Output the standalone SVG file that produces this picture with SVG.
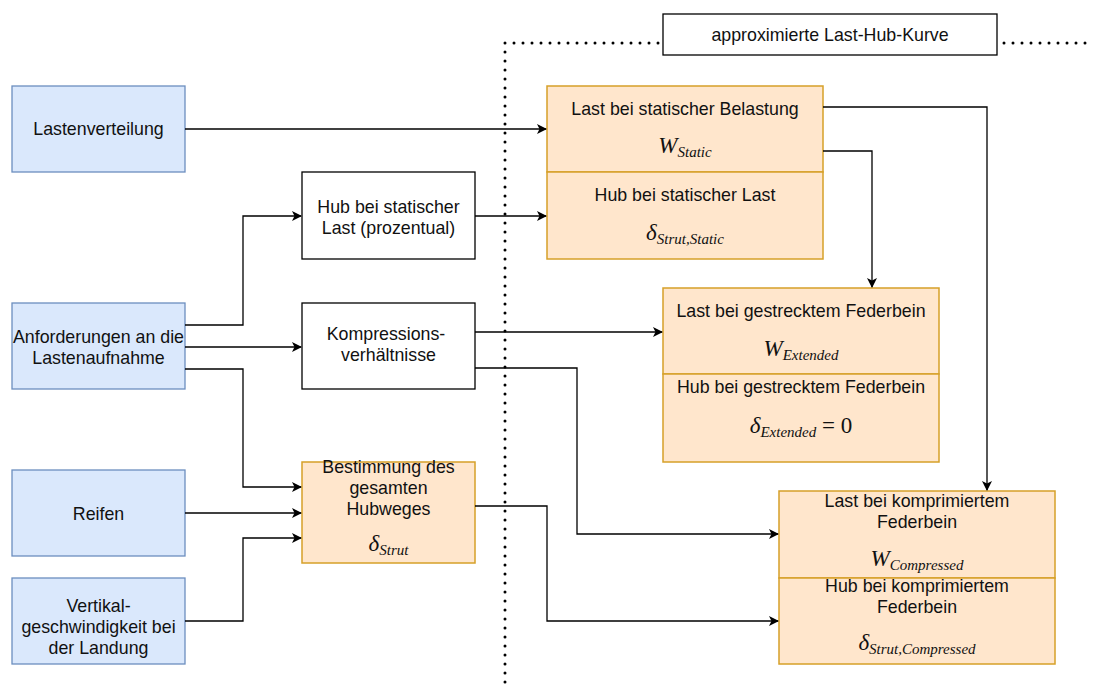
<svg xmlns="http://www.w3.org/2000/svg" width="1095" height="692" viewBox="0 0 1095 692">
  <defs>
    <marker id="arr" viewBox="0 0 10 10" refX="9" refY="5" markerWidth="10" markerHeight="10" markerUnits="userSpaceOnUse" orient="auto">
      <path d="M0,0 L10,5 L0,10 L2.5,5 Z" fill="#000"/>
    </marker>
  </defs>
  <style>
    .blue { fill: #dae8fc; stroke: #6c8ebf; stroke-width: 1.3; }
    .plain { fill: #ffffff; stroke: #000000; stroke-width: 1.3; }
    .orange { fill: #ffe6cc; stroke: #d6a028; stroke-width: 1.5; }
    .lbl { font-family: "Liberation Sans", Arial, sans-serif; font-size: 17.8px; fill: #111; text-anchor: middle; }
    .math { font-family: "Liberation Serif", "Times New Roman", serif; font-style: italic; fill: #111; text-anchor: middle; font-size: 23px; }
    .sub { font-size: 15px; }
    .edge { fill: none; stroke: #000; stroke-width: 1.3; }
    .dots { fill: none; stroke: #000; stroke-width: 3; stroke-dasharray: 0 9; stroke-linecap: round; }
  </style>
  <rect width="1095" height="692" fill="#ffffff"/>

  <!-- boundary of the approximated load-stroke region -->
  <g id="boundary">
    <path class="dots" d="M505,43 L660,43"/>
    <path class="dots" d="M1004,43 L1090,43"/>
    <path class="dots" d="M505,52 L505,690"/>
  </g>

  <g id="title">
    <rect class="plain" x="663" y="14" width="334" height="41"/>
    <text class="lbl" x="830" y="41">approximierte Last-Hub-Kurve</text>
  </g>

  <!-- inputs -->
  <g id="lastenverteilung">
    <rect class="blue" x="12" y="86" width="173" height="86"/>
    <text class="lbl" x="98.5" y="135">Lastenverteilung</text>
  </g>
  <g id="anforderungen">
    <rect class="blue" x="12" y="303" width="173" height="86"/>
    <text class="lbl" x="98.5" y="343">Anforderungen an die</text>
    <text class="lbl" x="98.5" y="364">Lastenaufnahme</text>
  </g>
  <g id="reifen">
    <rect class="blue" x="12" y="470" width="173" height="86"/>
    <text class="lbl" x="98.5" y="520">Reifen</text>
  </g>
  <g id="vertikalgeschwindigkeit">
    <rect class="blue" x="12" y="578" width="173" height="86"/>
    <text class="lbl" x="98.5" y="612">Vertikal-</text>
    <text class="lbl" x="98.5" y="633">geschwindigkeit bei</text>
    <text class="lbl" x="98.5" y="654">der Landung</text>
  </g>

  <!-- intermediate steps -->
  <g id="hub-statisch-prozent">
    <rect class="plain" x="302" y="172" width="173" height="87"/>
    <text class="lbl" x="388.5" y="213">Hub bei statischer</text>
    <text class="lbl" x="388.5" y="234">Last (prozentual)</text>
  </g>
  <g id="kompressionsverhaeltnisse">
    <rect class="plain" x="302" y="303" width="173" height="86"/>
    <text class="lbl" x="386" y="340">Kompressions-</text>
    <text class="lbl" x="388.5" y="361">verhältnisse</text>
  </g>
  <g id="gesamthubweg">
    <rect class="orange" x="302" y="462" width="173" height="101"/>
    <text class="lbl" x="388.5" y="473">Bestimmung des</text>
    <text class="lbl" x="388.5" y="494">gesamten</text>
    <text class="lbl" x="388.5" y="515">Hubweges</text>
    <text class="math" x="388.5" y="551">δ<tspan class="sub" dy="4">Strut</tspan></text>
  </g>

  <!-- load / stroke points -->
  <g id="statisch">
    <rect class="orange" x="547" y="86" width="276" height="86"/>
    <rect class="orange" x="547" y="172" width="276" height="87"/>
    <text class="lbl" x="685" y="115">Last bei statischer Belastung</text>
    <text class="math" x="685" y="153">W<tspan class="sub" dy="4">Static</tspan></text>
    <text class="lbl" x="685" y="201">Hub bei statischer Last</text>
    <text class="math" x="685" y="240">δ<tspan class="sub" dy="4">Strut,Static</tspan></text>
  </g>
  <g id="gestreckt">
    <rect class="orange" x="663" y="288" width="276" height="86"/>
    <rect class="orange" x="663" y="374" width="276" height="88"/>
    <text class="lbl" x="801" y="317">Last bei gestrecktem Federbein</text>
    <text class="math" x="801" y="356">W<tspan class="sub" dy="4">Extended</tspan></text>
    <text class="lbl" x="801" y="393">Hub bei gestrecktem Federbein</text>
    <text class="math" x="801" y="433">δ<tspan class="sub" dy="4">Extended</tspan><tspan dy="-4" font-style="normal"> = 0</tspan></text>
  </g>
  <g id="komprimiert">
    <rect class="orange" x="779" y="491" width="276" height="87"/>
    <rect class="orange" x="779" y="578" width="276" height="86"/>
    <text class="lbl" x="917" y="507">Last bei komprimiertem</text>
    <text class="lbl" x="917" y="528">Federbein</text>
    <text class="math" x="917" y="566">W<tspan class="sub" dy="4">Compressed</tspan></text>
    <text class="lbl" x="917" y="592">Hub bei komprimiertem</text>
    <text class="lbl" x="917" y="613">Federbein</text>
    <text class="math" x="917" y="650">δ<tspan class="sub" dy="4">Strut,Compressed</tspan></text>
  </g>

  <!-- connectors -->
  <g id="connectors">
    <path class="edge" marker-end="url(#arr)" d="M185,129 L546,129"/>
    <path class="edge" marker-end="url(#arr)" d="M823,107 L987,107 L987,490"/>
    <path class="edge" marker-end="url(#arr)" d="M823,151 L872,151 L872,287"/>
    <path class="edge" marker-end="url(#arr)" d="M475,216 L546,216"/>
    <path class="edge" marker-end="url(#arr)" d="M185,325 L243,325 L243,216 L301,216"/>
    <path class="edge" marker-end="url(#arr)" d="M185,347 L301,347"/>
    <path class="edge" marker-end="url(#arr)" d="M185,369 L243,369 L243,487 L301,487"/>
    <path class="edge" marker-end="url(#arr)" d="M185,513 L301,513"/>
    <path class="edge" marker-end="url(#arr)" d="M185,621 L243,621 L243,538 L301,538"/>
    <path class="edge" marker-end="url(#arr)" d="M475,332 L662,332"/>
    <path class="edge" marker-end="url(#arr)" d="M475,368 L577,368 L577,534 L778,534"/>
    <path class="edge" marker-end="url(#arr)" d="M475,506 L547,506 L547,621 L778,621"/>
  </g>
</svg>
